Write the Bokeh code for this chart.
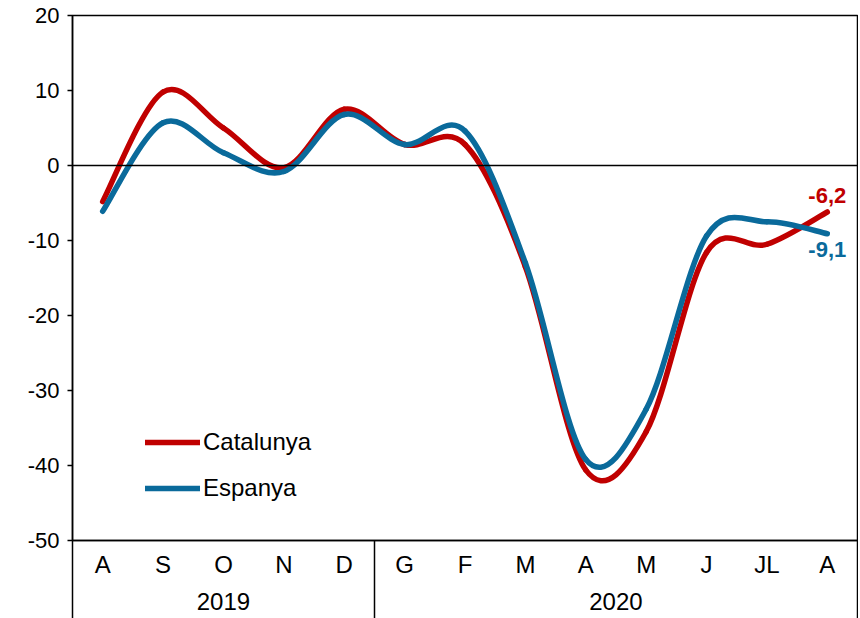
import numpy as np
from bokeh.plotting import figure
from bokeh.models import (Range1d, FixedTicker, LinearAxis, Span, Legend, LegendItem,
                          ColumnDataSource)
from bokeh.core.properties import value
from bokeh.embed import file_html
from bokeh.resources import INLINE

# ---- data ----
months = ["A", "S", "O", "N", "D", "G", "F", "M", "A", "M", "J", "JL", "A"]
years = ["2019", "2020"]
year_months = [5, 8]  # number of months in each year group
catalunya = [-4.8, 9.8, 5.0, -0.3, 7.5, 2.8, 2.8, -13.5, -40.6, -35.5, -11.6, -10.5, -6.2]
espanya = [-6.1, 5.7, 1.7, -0.8, 6.8, 2.8, 4.6, -13.0, -39.2, -32.5, -9.4, -7.5, -9.1]
series_names = ["Catalunya", "Espanya"]
last_labels = ["-6,2", "-9,1"]
y_ticks = [-50, -40, -30, -20, -10, 0, 10, 20]
y_tick_labels = ["-50", "-40", "-30", "-20", "-10", "0", "10", "20"]

RED = "#C00000"
BLUE = "#0A6A9B"
FONT = "Liberation Sans"

n = len(months)
xs = np.arange(n) + 0.5

p = figure(width=858, height=618, output_backend="svg", toolbar_location=None,
           x_range=Range1d(0, n), y_range=Range1d(-50, 20),
           x_axis_type=None, y_axis_type=None,
           min_border_left=72, min_border_right=1, min_border_top=15, min_border_bottom=78)
p.xgrid.visible = False
p.ygrid.visible = False
p.outline_line_color = "black"
p.outline_line_width = 1.5
p.background_fill_color = "white"
p.border_fill_color = "white"

# y axis
yax = LinearAxis(ticker=FixedTicker(ticks=y_ticks))
yax.major_label_overrides = {t: s for t, s in zip(y_ticks, y_tick_labels)}
yax.axis_line_width = 1.5
yax.major_tick_line_width = 1.5
yax.major_tick_out = 5
yax.major_tick_in = 0
yax.minor_tick_line_color = None
yax.major_label_standoff = 8
yax.major_label_text_font = FONT
yax.major_label_text_font_size = "22px"
yax.major_label_text_color = "black"
p.add_layout(yax, "left")

# month axis with group separators drawn as long minor ticks
SEP = 78
bounds = np.concatenate([[0], np.cumsum(year_months)]).tolist()
mticker = FixedTicker(ticks=xs.tolist(), minor_ticks=bounds)
xax = LinearAxis(ticker=mticker)
xax.major_label_overrides = {float(x): m for x, m in zip(xs, months)}
xax.axis_line_width = 1.5
xax.major_tick_out = 0
xax.major_tick_in = 0
xax.minor_tick_out = SEP
xax.minor_tick_in = 0
xax.minor_tick_line_width = 1.5
xax.minor_tick_line_color = "black"
xax.major_label_standoff = 10 - SEP
xax.major_label_text_font = FONT
xax.major_label_text_font_size = "24px"
xax.major_label_text_color = "black"
p.add_layout(xax, "below")

# year axis
ycent = [(bounds[i] + bounds[i + 1]) / 2 for i in range(len(years))]
yrax = LinearAxis(ticker=FixedTicker(ticks=ycent))
yrax.major_label_overrides = {float(c): yv for c, yv in zip(ycent, years)}
yrax.axis_line_color = None
yrax.major_tick_line_color = None
yrax.minor_tick_line_color = None
yrax.major_tick_out = 0
yrax.major_tick_in = 0
yrax.major_label_standoff = 12
yrax.major_label_text_font = FONT
yrax.major_label_text_font_size = "24px"
yrax.major_label_text_color = "black"
p.add_layout(yrax, "below")

# zero line
p.add_layout(Span(location=0, dimension="width", line_color="black", line_width=1.5))


def smooth_source(y):
    y = np.asarray(y, dtype=float)
    m = len(y)
    i = np.arange(m - 1)
    ip = np.clip(i - 1, 0, m - 1)
    i2 = np.clip(i + 2, 0, m - 1)
    return ColumnDataSource(dict(
        x0=xs[i], y0=y[i], x1=xs[i + 1], y1=y[i + 1],
        cx0=xs[i] + (xs[i + 1] - xs[ip]) / 6, cy0=y[i] + (y[i + 1] - y[ip]) / 6,
        cx1=xs[i + 1] - (xs[i2] - xs[i]) / 6, cy1=y[i + 1] - (y[i2] - y[i]) / 6,
    ))


items = []
for data, col, name in [(catalunya, RED, series_names[0]), (espanya, BLUE, series_names[1])]:
    r = p.bezier(x0="x0", y0="y0", x1="x1", y1="y1", cx0="cx0", cy0="cy0", cx1="cx1", cy1="cy1",
                 source=smooth_source(data), line_color=col, line_width=5.5, line_cap="round")
    items.append(LegendItem(label=name, renderers=[r]))

# end labels
p.text(x=[xs[-1]], y=[catalunya[-1]], text=[last_labels[0]], text_color=RED,
       text_font=value(FONT), text_font_size="22px", text_font_style="bold",
       text_align="center", text_baseline="middle", y_offset=-17)
p.text(x=[xs[-1]], y=[espanya[-1]], text=[last_labels[1]], text_color=BLUE,
       text_font=value(FONT), text_font_size="22px", text_font_style="bold",
       text_align="center", text_baseline="middle", y_offset=16)

legend = Legend(items=items, location=(73, 37), orientation="vertical",
                glyph_width=55, glyph_height=30, spacing=16, label_standoff=3,
                padding=0, margin=0, border_line_color=None, background_fill_alpha=0,
                label_text_font=FONT, label_text_font_size="24px", label_text_color="black")
p.add_layout(legend)

open("out.html", "w").write(file_html(p, INLINE))
